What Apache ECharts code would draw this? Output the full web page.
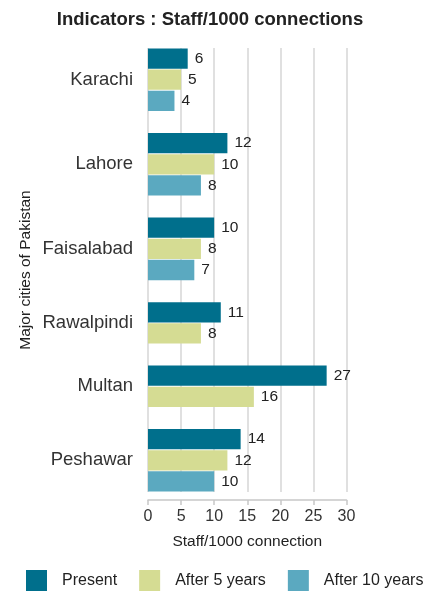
<!DOCTYPE html>
<html>
<head>
<meta charset="utf-8">
<script src="https://cdn.jsdelivr.net/npm/echarts@6/dist/echarts.min.js"></script>
<style>
  html, body { margin: 0; padding: 0; background: #fff; }
  #main { width: 435px; height: 591px; }
</style>
</head>
<body>
<div id="main"></div>
<script>
// 数据
const cities = ['Karachi', 'Lahore', 'Faisalabad', 'Rawalpindi', 'Multan', 'Peshawar'];
const present = [6, 12, 10, 11, 27, 14];
const after5 = [5, 10, 8, 8, 16, 12];
const after10 = [4, 8, 7, null, null, 10];
const seriesNames = ['Present', 'After 5 years', 'After 10 years'];
const colors = ['#006f8c', '#d5dc93', '#5ba9c0'];
const xTicks = [0, 5, 10, 15, 20, 25, 30];

// 每根柱子占一行，城市之间空一行
const allValues = [present, after5, after10];
const rowNames = [];
const rowLabels = [];
const seriesData = [[], [], []];

for (let i = 0; i < cities.length; i++) {
  const used = [];
  for (let s = 0; s < allValues.length; s++) {
    if (allValues[s][i] != null) used.push(s);
  }
  for (let k = 0; k < used.length; k++) {
    rowNames.push('r' + rowNames.length);
    let label = '';
    if (used.length % 2 === 1 && k === (used.length - 1) / 2) label = cities[i];
    if (used.length % 2 === 0 && k === used.length / 2 - 1) label = '{low|' + cities[i] + '}';
    rowLabels.push(label);
    for (let s = 0; s < allValues.length; s++) {
      seriesData[s].push(s === used[k] ? allValues[s][i] : '-');
    }
  }
  if (i < cities.length - 1) {
    rowNames.push('r' + rowNames.length);
    rowLabels.push('');
    for (let s = 0; s < allValues.length; s++) seriesData[s].push('-');
  }
}

const font = "'Liberation Sans', Arial, sans-serif";
const chart = echarts.init(document.getElementById('main'));

chart.setOption({
  animation: false,
  title: {
    text: 'Indicators : Staff/1000 connections',
    left: 205,
    textAlign: 'center',
    top: 5,
    textStyle: { fontFamily: font, fontSize: 18.5, fontWeight: 'bold', color: '#222' }
  },
  legend: {
    data: seriesNames,
    top: 570,
    left: 26,
    width: 409,
    padding: 0,
    itemWidth: 21,
    itemHeight: 21,
    itemGap: 22,
    icon: 'rect',
    textStyle: { fontFamily: font, fontSize: 16, color: '#222', padding: [0, 0, 0, 10] }
  },
  grid: { left: 148, top: 48, width: 198.5, height: 444, containLabel: false },
  xAxis: {
    type: 'value',
    min: xTicks[0],
    max: xTicks[xTicks.length - 1],
    interval: 5,
    offset: 8,
    name: 'Staff/1000 connection',
    nameLocation: 'middle',
    nameGap: 34,
    nameTextStyle: { fontFamily: font, fontSize: 15.5, color: '#222' },
    axisLine: { show: true, lineStyle: { color: '#c8c8c8', width: 1.5 } },
    axisTick: { show: true, length: 5, lineStyle: { color: '#c8c8c8', width: 1.5 } },
    axisLabel: { fontFamily: font, fontSize: 16, color: '#333', margin: 9 },
    splitLine: { show: true, lineStyle: { color: '#d6d6d6', width: 1.5 } }
  },
  yAxis: {
    type: 'category',
    data: rowNames,
    inverse: true,
    name: 'Major cities of Pakistan',
    nameLocation: 'middle',
    nameGap: 114,
    nameRotate: 90,
    nameTextStyle: { fontFamily: font, fontSize: 15.5, color: '#222' },
    axisLine: { show: false },
    axisTick: { show: false },
    axisLabel: {
      interval: 0,
      margin: 15,
      fontFamily: font,
      fontSize: 18.5,
      color: '#333',
      formatter: function (value, index) { return rowLabels[index]; },
      rich: {
        low: { fontFamily: font, fontSize: 18.5, color: '#333', padding: [21, 0, 0, 0] }
      }
    }
  },
  series: seriesNames.map(function (name, s) {
    return {
      name: name,
      type: 'bar',
      data: seriesData[s],
      barGap: '-100%',
      barCategoryGap: '4%',
      itemStyle: { color: colors[s] },
      label: {
        show: true,
        position: 'right',
        distance: 7,
        fontFamily: font,
        fontSize: 15.5,
        color: '#222'
      }
    };
  })
});
</script>
</body>
</html>
